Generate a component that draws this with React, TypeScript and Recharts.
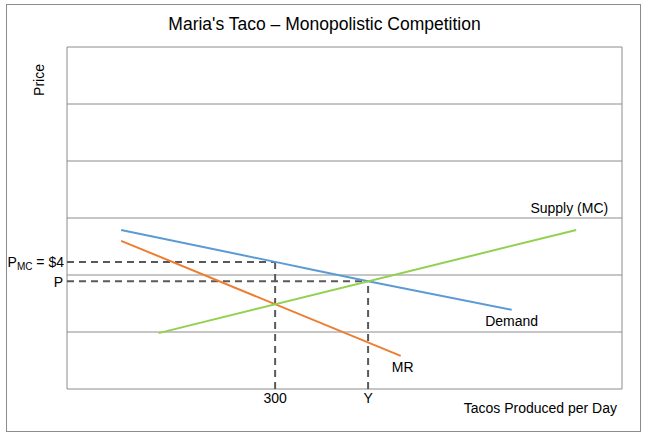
import React from "react";
import {
  ComposedChart,
  Line,
  ReferenceLine,
  XAxis,
  YAxis,
} from "recharts";

// quantity (tacos/day) vs price
const demandPoints = [
  { q: 78, price: 2.79 },
  { q: 300, price: 2.23 },
  { q: 434, price: 1.89 },
  { q: 641, price: 1.39 },
];
const mrPoints = [
  { q: 78, price: 2.6 },
  { q: 481, price: 0.58 },
];
const supplyPoints = [
  { q: 132, price: 0.98 },
  { q: 734, price: 2.79 },
];

const gridLevels = [0, 1, 2, 3, 4, 5, 6];
const qMax = 800;
const qMonopoly = 300;
const qY = 434;
const priceMC = 2.23;
const priceP = 1.89;

const xTicks = [qMonopoly, qY];
const xTickLabels: Record<number, string> = { 300: "300", 434: "Y" };
const yTicks = [priceP, priceMC];

const FONT = "'Liberation Sans', Arial, sans-serif";
const GRID = "#8c8c8c";
const DASH = "#595959";

const YTick = (props: any) => {
  const { x, y, payload } = props;
  if (payload.value === priceMC) {
    return (
      <text x={x + 5} y={y} textAnchor="end" dominantBaseline="central" fontSize={14} fill="#000" fontFamily={FONT}>
        P
        <tspan fontSize={10} dy={4}>MC</tspan>
        <tspan dy={-4}> = $4</tspan>
      </text>
    );
  }
  return (
    <text x={x + 4} y={y + 1} textAnchor="end" dominantBaseline="central" fontSize={14} fill="#000" fontFamily={FONT}>
      P
    </text>
  );
};

const XTick = (props: any) => {
  const { x, y, payload } = props;
  return (
    <text x={x} y={y + 1} textAnchor="middle" dominantBaseline="central" fontSize={14} fill="#000" fontFamily={FONT}>
      {xTickLabels[payload.value] ?? ""}
    </text>
  );
};

const endLabel = (text: string, last: number, dx: number, dy: number, anchor: string) => (props: any) => {
  const { x, y, index } = props;
  if (index !== last) return <g />;
  return (
    <text x={x + dx} y={y + dy} textAnchor={anchor} dominantBaseline="central" fontSize={14} fill="#000" fontFamily={FONT}>
      {text}
    </text>
  );
};

export default function App() {
  return (
    <div style={{ position: "absolute", left: 0, top: 0, width: 649, height: 437, background: "#fff", fontFamily: FONT }}>
      <div style={{ position: "absolute", left: 6, top: 4, width: 633, height: 426, border: "1px solid #8c8c8c" }} />
      <div style={{ position: "absolute", left: 0, width: 649, top: 14, textAlign: "center", fontSize: 17.5, color: "#000" }}>
        Maria's Taco – Monopolistic Competition
      </div>
      <div
        style={{
          position: "absolute",
          left: 39,
          top: 80,
          transform: "translate(-50%, -50%) rotate(-90deg)",
          fontSize: 14,
          color: "#000",
        }}
      >
        Price
      </div>
      <div style={{ position: "absolute", right: 32, top: 400, fontSize: 14, color: "#000" }}>
        Tacos Produced per Day
      </div>
      <div style={{ position: "absolute", left: 0, top: 0 }}>
        <ComposedChart width={649} height={437} margin={{ top: 47, right: 27, bottom: 0, left: 0 }}>
          <XAxis
            type="number"
            dataKey="q"
            domain={[0, qMax]}
            ticks={xTicks}
            interval={0}
            tick={<XTick />}
            axisLine={false}
            tickLine={false}
            height={48}
            allowDataOverflow
          />
          <YAxis
            type="number"
            domain={[0, 6]}
            ticks={yTicks}
            interval={0}
            tick={<YTick />}
            axisLine={false}
            tickLine={false}
            width={67}
            allowDataOverflow
          />
          {gridLevels.map((g) => (
            <ReferenceLine key={"g" + g} y={g} stroke={GRID} strokeWidth={1} />
          ))}
          <ReferenceLine x={0} stroke={GRID} strokeWidth={1} />
          <ReferenceLine x={qMax} stroke={GRID} strokeWidth={1} />

          <ReferenceLine segment={[{ x: 0, y: priceMC }, { x: qMonopoly, y: priceMC }]} stroke={DASH} strokeWidth={2} strokeDasharray="7 5" />
          <ReferenceLine segment={[{ x: 0, y: priceP }, { x: qY, y: priceP }]} stroke={DASH} strokeWidth={2} strokeDasharray="7 5" />
          <ReferenceLine segment={[{ x: qMonopoly, y: 0 }, { x: qMonopoly, y: priceMC }]} stroke={DASH} strokeWidth={2} strokeDasharray="7 5" />
          <ReferenceLine segment={[{ x: qY, y: 0 }, { x: qY, y: priceP }]} stroke={DASH} strokeWidth={2} strokeDasharray="7 5" />

          <Line
            data={demandPoints}
            dataKey="price"
            type="monotone"
            stroke="#5B9BD5"
            strokeWidth={2}
            dot={false}
            isAnimationActive={false}
            label={endLabel("Demand", demandPoints.length - 1, 0, 11, "middle")}
          />
          <Line
            data={mrPoints}
            dataKey="price"
            type="linear"
            stroke="#ED7D31"
            strokeWidth={2}
            dot={false}
            isAnimationActive={false}
            label={endLabel("MR", mrPoints.length - 1, 2, 11, "middle")}
          />
          <Line
            data={supplyPoints}
            dataKey="price"
            type="linear"
            stroke="#92D050"
            strokeWidth={2}
            dot={false}
            isAnimationActive={false}
            label={endLabel("Supply (MC)", supplyPoints.length - 1, 32, -22, "end")}
          />
        </ComposedChart>
      </div>
    </div>
  );
}
